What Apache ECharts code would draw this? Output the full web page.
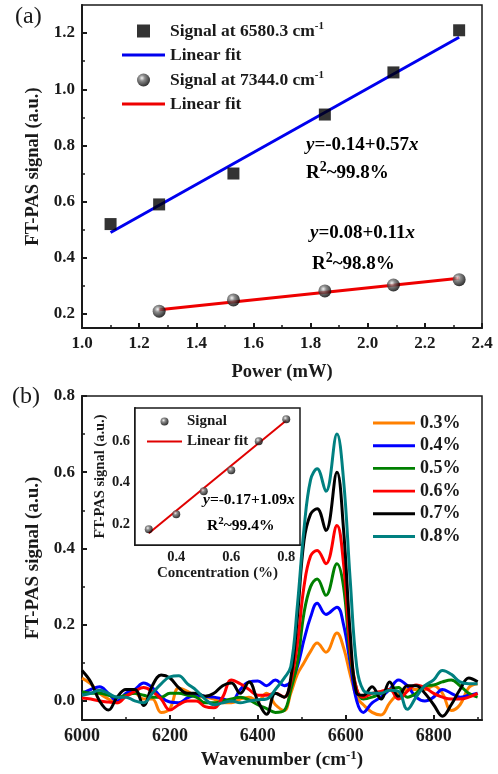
<!DOCTYPE html>
<html>
<head>
<meta charset="utf-8">
<script src="https://cdn.jsdelivr.net/npm/echarts@6/dist/echarts.min.js"></script>
<style>
html, body { margin: 0; padding: 0; background: #fff; }
#main { width: 498px; height: 774px; }
</style>
</head>
<body>
<div id="main"></div>
<script>
// (a) 功率依赖
const powerA = [1.10, 1.27, 1.53, 1.85, 2.09, 2.32];
const signal6580 = [0.52, 0.59, 0.70, 0.91, 1.06, 1.21];
const powerB = [1.27, 1.53, 1.85, 2.09, 2.32];
const signal7344 = [0.21, 0.25, 0.282, 0.303, 0.322];
const fit6580 = [[1.10, 0.49], [2.32, 1.185]];
const fit7344 = [[1.27, 0.215], [2.32, 0.327]];
const ticksAx = [1.0, 1.2, 1.4, 1.6, 1.8, 2.0, 2.2, 2.4];
const minorAx = [1.1, 1.3, 1.5, 1.7, 1.9, 2.1, 2.3];
const ticksAy = [0.2, 0.4, 0.6, 0.8, 1.0, 1.2];
const minorAy = [0.3, 0.5, 0.7, 0.9, 1.1];

// (b) 光谱
const wavenumber = [6000, 6020, 6040, 6060, 6080, 6100, 6120, 6140, 6160, 6180, 6200, 6220,
  6240, 6260, 6280, 6300, 6320, 6340, 6360, 6380, 6400, 6420, 6440, 6460, 6475, 6490, 6505,
  6520, 6535, 6555, 6580, 6595, 6610, 6625, 6640, 6660, 6680, 6700, 6720, 6740, 6760, 6780,
  6800, 6820, 6840, 6860, 6880, 6900];
const spec03 = [0.06, 0.045, 0.02, 0.005, -0.005, 0.015, 0.02, 0.005, 0.005, -0.03, -0.02, 0.034,
  0.025, 0.012, 0.01, 0.005, -0.005, -0.005, 0.005, 0.01, 0.0, 0.02, -0.01, -0.025, 0.02, 0.07, 0.1,
  0.13, 0.152, 0.128, 0.178, 0.14, 0.07, 0.01, -0.01, -0.03, -0.037, -0.005, 0.02, 0.03, 0.03, 0.03,
  0.04, 0.02, -0.025, -0.01, 0.035, 0.045];
const spec04 = [0.02, 0.03, 0.037, 0.02, 0.0, 0.02, 0.03, 0.047, 0.035, 0.01, -0.003, -0.005,
  0.008, 0.015, 0.012, 0.01, 0.005, 0.0, 0.03, 0.05, 0.052, 0.04, 0.055, 0.04, 0.05, 0.09, 0.16,
  0.22, 0.256, 0.227, 0.246, 0.2, 0.1, 0.0, -0.03, -0.005, 0.01, 0.03, 0.055, 0.04, 0.01, 0.0,
  0.01, 0.03, 0.02, 0.01, 0.015, 0.02];
const spec05 = [0.024, 0.02, 0.02, 0.015, 0.01, 0.015, 0.02, 0.015, 0.01, 0.01, 0.02, 0.02,
  0.015, 0.01, -0.005, -0.005, 0.0, 0.005, 0.01, 0.003, -0.01, -0.02, -0.03, -0.025, 0.03, 0.1, 0.23,
  0.3, 0.32, 0.277, 0.36, 0.3, 0.12, 0.03, 0.005, 0.01, 0.02, 0.03, 0.035, 0.01, 0.02, 0.04,
  0.042, 0.05, 0.055, 0.04, 0.02, 0.01];
const spec06 = [0.008, 0.005, 0.0, -0.003, -0.005, 0.012, 0.025, 0.035, 0.025, 0.005, -0.024, -0.01,
  0.0, 0.0, -0.015, -0.018, 0.01, 0.055, 0.045, 0.03, 0.015, 0.015, 0.02, 0.01, 0.05, 0.15, 0.3,
  0.38, 0.395, 0.36, 0.46, 0.36, 0.14, 0.03, 0.01, 0.02, 0.025, 0.03, 0.005, 0.025, 0.042, 0.035,
  0.02, 0.01, 0.005, 0.005, 0.01, 0.02];
const spec07 = [0.08, 0.05, 0.0, -0.024, 0.01, 0.03, 0.03, -0.012, 0.04, 0.068, 0.06, 0.035,
  0.02, 0.02, 0.012, 0.02, 0.04, 0.047, 0.02, 0.05, 0.0, -0.035, 0.02, 0.01, 0.06, 0.22, 0.42,
  0.49, 0.504, 0.447, 0.60, 0.45, 0.18, 0.02, 0.015, 0.037, 0.005, 0.05, 0.012, 0.04, 0.04, 0.02,
  -0.01, -0.04, -0.01, 0.03, 0.06, 0.05];
const spec08 = [0.015, 0.02, 0.028, 0.02, 0.01, 0.01, 0.0, -0.005, 0.02, 0.045, 0.063, 0.066,
  0.045, 0.028, 0.005, -0.01, -0.005, 0.0, -0.005, 0.0, 0.003, 0.005, 0.03, 0.06, 0.09, 0.25, 0.45,
  0.58, 0.609, 0.55, 0.70, 0.58, 0.32, 0.09, 0.028, 0.02, 0.02, 0.028, 0.025, -0.022, 0.01, 0.04,
  0.055, 0.08, 0.07, 0.05, 0.045, 0.045];
const concLabels = ['0.3%', '0.4%', '0.5%', '0.6%', '0.7%', '0.8%'];
const specColors = ['#ff8000', '#0000ff', '#008000', '#ff0000', '#000000', '#008080'];
const ticksBx = [6000, 6200, 6400, 6600, 6800];
const minorBx = [6100, 6300, 6500, 6700, 6900];
const ticksBy = [0.0, 0.2, 0.4, 0.6, 0.8];
const minorBy = [0.1, 0.3, 0.5, 0.7];

// 插图：浓度
const conc = [0.3, 0.4, 0.5, 0.6, 0.7, 0.8];
const concSignal = [0.176, 0.248, 0.359, 0.46, 0.60, 0.706];
const fitConc = [[0.3, 0.157], [0.8, 0.70]];
const ticksIx = [0.4, 0.6, 0.8];
const minorIx = [0.3, 0.5, 0.7];
const ticksIy = [0.2, 0.4, 0.6];
const minorIy = [0.3, 0.5, 0.7];

const FONT = 'Liberation Serif';
const INK = '#1a1a1a';
const LINE_ICON = 'path://M0,0L43,0L43,3L0,3Z';
const txt = (size, extra) => Object.assign({ fontFamily: FONT, fontWeight: 'bold', fontSize: size, color: INK }, extra || {});
const sup = size => ({ fontFamily: FONT, fontWeight: 'bold', fontSize: size, color: INK, padding: [0, 0, Math.round(size * 0.8), 0] });

const sphere = {
  type: 'radial', x: 0.38, y: 0.35, r: 0.65,
  colorStops: [{ offset: 0, color: '#f0f0f0' }, { offset: 0.35, color: '#707070' }, { offset: 1, color: '#000' }]
};

var myChart = echarts.init(document.getElementById('main'));

// 主刻度轴 + 次刻度轴（同一网格叠加）
function axis(dim, grid, min, max, major, minor, size, tickLen, margin, isMinor) {
  return {
    gridIndex: grid, type: 'value', min: min, max: max,
    position: dim === 'x' ? 'bottom' : 'left',
    axisLine: { show: !isMinor, onZero: false, lineStyle: { color: INK, width: 2 } },
    axisTick: { show: true, inside: true, length: isMinor ? tickLen * 0.6 : tickLen, customValues: isMinor ? minor : major, lineStyle: { color: INK, width: isMinor ? 1.5 : 2 } },
    axisLabel: isMinor ? { show: false } : Object.assign({ customValues: major, margin: margin, formatter: v => v.toFixed(dim === 'x' && max > 100 ? 0 : 1) }, txt(size)),
    splitLine: { show: false }
  };
}

const xA = axis('x', 0, 1.0, 2.4, ticksAx, minorAx, 17, 5, 7, false);
Object.assign(xA, { name: 'Power (mW)', nameLocation: 'middle', nameGap: 35, nameTextStyle: txt(18.5) });
const yA = axis('y', 0, 0.15, 1.3, ticksAy, minorAy, 17, 5, 7, false);
Object.assign(yA, { name: 'FT-PAS signal (a.u.)', nameLocation: 'middle', nameGap: 38, nameRotate: 90, nameTextStyle: txt(18.5) });

const xB = axis('x', 1, 6000, 6910, ticksBx, minorBx, 18, 5, 7, false);
Object.assign(xB, { name: '{n|Wavenumber (cm}{s|-1}{n|)}', nameLocation: 'middle', nameGap: 29, nameTextStyle: Object.assign(txt(19), { rich: { n: txt(19), s: sup(13) } }) });
const yB = axis('y', 1, -0.05, 0.8, ticksBy, minorBy, 17, 5, 7, false);
Object.assign(yB, { name: 'FT-PAS signal (a.u.)', nameLocation: 'middle', nameGap: 38, nameRotate: 90, nameTextStyle: txt(19) });

const xI = axis('x', 2, 0.25, 0.85, ticksIx, minorIx, 14.5, 4, 5, false);
Object.assign(xI, { name: 'Concentration (%)', nameLocation: 'middle', nameGap: 20, nameTextStyle: txt(15) });
const yI = axis('y', 2, 0.1, 0.76, ticksIy, minorIy, 14.5, 4, 5, false);
Object.assign(yI, { name: 'FT-PAS signal (a.u.)', nameLocation: 'middle', nameGap: 25, nameRotate: 90, nameTextStyle: txt(14.5) });

const specSeries = [spec03, spec04, spec05, spec06, spec07, spec08].map((s, i) => ({
  name: concLabels[i], type: 'line', xAxisIndex: 2, yAxisIndex: 2,
  data: wavenumber.map((w, k) => [w, s[k]]),
  smooth: 0.4, symbol: 'none', lineStyle: { width: 3, color: specColors[i] }, itemStyle: { color: specColors[i] }, z: 2 + i
}));

const legendFmt = name => {
  const n = name.trim();
  const m = n.match(/^(.*) cm-1$/);
  return m ? '{t|' + m[1] + ' cm}{s|-1}' : '{t|' + n + '}';
};

const option = {
  animation: false,
  grid: [
    { left: 82, top: 5, width: 400, height: 323, show: true, borderColor: INK, borderWidth: 1.5 },
    { left: 82, top: 396, width: 400, height: 324, show: true, borderColor: INK, borderWidth: 1.5 },
    { left: 135, top: 408, width: 165, height: 137, show: true, borderColor: INK, borderWidth: 1.5, backgroundColor: '#fff', z: 10 }
  ],
  xAxis: [
    xA, axis('x', 0, 1.0, 2.4, ticksAx, minorAx, 17, 5, 7, true),
    xB, axis('x', 1, 6000, 6910, ticksBx, minorBx, 18, 5, 7, true),
    xI, axis('x', 2, 0.25, 0.85, ticksIx, minorIx, 14.5, 4, 5, true)
  ],
  yAxis: [
    yA, axis('y', 0, 0.15, 1.3, ticksAy, minorAy, 17, 5, 7, true),
    yB, axis('y', 1, -0.05, 0.8, ticksBy, minorBy, 17, 5, 7, true),
    yI, axis('y', 2, 0.1, 0.76, ticksIy, minorIy, 14.5, 4, 5, true)
  ],
  legend: [
    {
      orient: 'vertical', left: 122, top: 21, padding: 0, itemWidth: 43, itemHeight: 13, itemGap: 6,
      data: [
        { name: 'Signal at 6580.3 cm-1', icon: 'path://M0,0L10,0L10,10L0,10Z' },
        { name: 'Linear fit', icon: LINE_ICON },
        { name: 'Signal at 7344.0 cm-1', icon: 'circle' },
        { name: 'Linear fit ', icon: LINE_ICON }
      ],
      formatter: legendFmt,
      textStyle: { rich: { t: txt(17.5), s: sup(11) } }
    },
    {
      orient: 'vertical', left: 373, top: 414, padding: 0, itemWidth: 42, itemHeight: 10, itemGap: 4.7,
      data: concLabels.map(n => ({ name: n, icon: LINE_ICON })),
      textStyle: txt(18)
    },
    {
      orient: 'vertical', left: 147, top: 414, padding: 0, itemWidth: 35, itemHeight: 8, itemGap: 5, z: 12,
      data: [{ name: 'Signal', icon: 'circle' }, { name: 'Linear fit  ', icon: 'path://M0,0L35,0L35,2L0,2Z' }],
      formatter: legendFmt,
      textStyle: { rich: { t: txt(15) } }
    }
  ],
  series: [
    { name: 'Signal at 6580.3 cm-1', type: 'scatter', xAxisIndex: 0, yAxisIndex: 0, symbol: 'rect', symbolSize: 12,
      data: powerA.map((p, i) => [p, signal6580[i]]), itemStyle: { color: '#000' }, z: 5 },
    { name: 'Linear fit', type: 'line', xAxisIndex: 0, yAxisIndex: 0, data: fit6580, symbol: 'none',
      lineStyle: { width: 3, color: '#0000ee' }, itemStyle: { color: '#0000ee' }, z: 4 },
    { name: 'Signal at 7344.0 cm-1', type: 'scatter', xAxisIndex: 0, yAxisIndex: 0, symbol: 'circle', symbolSize: 13,
      data: powerB.map((p, i) => [p, signal7344[i]]), itemStyle: { color: sphere }, z: 5 },
    { name: 'Linear fit ', type: 'line', xAxisIndex: 0, yAxisIndex: 0, data: fit7344, symbol: 'none',
      lineStyle: { width: 3, color: '#ee0000' }, itemStyle: { color: '#ee0000' }, z: 4 },
    ...specSeries,
    { name: 'Signal', type: 'scatter', xAxisIndex: 4, yAxisIndex: 4, symbol: 'circle', symbolSize: 8,
      data: conc.map((c, i) => [c, concSignal[i]]), itemStyle: { color: sphere }, z: 13 },
    { name: 'Linear fit  ', type: 'line', xAxisIndex: 4, yAxisIndex: 4, data: fitConc, symbol: 'none',
      lineStyle: { width: 2, color: '#e00000' }, itemStyle: { color: '#e00000' }, z: 12 }
  ],
  graphic: [
    { type: 'text', x: 15, y: 17, style: { text: '(a)', fontFamily: FONT, fontSize: 24, fill: INK, verticalAlign: 'middle' } },
    { type: 'text', x: 12, y: 397, style: { text: '(b)', fontFamily: FONT, fontSize: 24, fill: INK, verticalAlign: 'middle' } },
    { type: 'text', x: 306, y: 145, style: { text: '{i|y}{n|=-0.14+0.57}{i|x}', verticalAlign: 'middle',
      rich: { n: txt(19, { color: '#2a2ad0' }), i: txt(19, { color: '#2a2ad0', fontStyle: 'italic' }) } } },
    { type: 'text', x: 306, y: 173, style: { text: '{n|R}{s|2}{n|~99.8%}', verticalAlign: 'middle',
      rich: { n: txt(19, { color: '#2a2ad0' }), s: Object.assign(sup(14), { color: '#2a2ad0' }) } } },
    { type: 'text', x: 310, y: 233, style: { text: '{i|y}{n|=0.08+0.11}{i|x}', verticalAlign: 'middle',
      rich: { n: txt(19, { color: '#e8202a' }), i: txt(19, { color: '#e8202a', fontStyle: 'italic' }) } } },
    { type: 'text', x: 312, y: 264, style: { text: '{n|R}{s|2}{n|~98.8%}', verticalAlign: 'middle',
      rich: { n: txt(19, { color: '#e8202a' }), s: Object.assign(sup(14), { color: '#e8202a' }) } } },
    { type: 'text', x: 203, y: 500, z: 20, style: { text: '{i|y}{n|=-0.17+1.09}{i|x}', verticalAlign: 'middle',
      rich: { n: txt(15.5), i: txt(15.5, { fontStyle: 'italic' }) } } },
    { type: 'text', x: 207, y: 526, z: 20, style: { text: '{n|R}{s|2}{n|~99.4%}', verticalAlign: 'middle',
      rich: { n: txt(15.5), s: sup(11) } } }
  ]
};

myChart.setOption(option);
</script>
</body>
</html>
